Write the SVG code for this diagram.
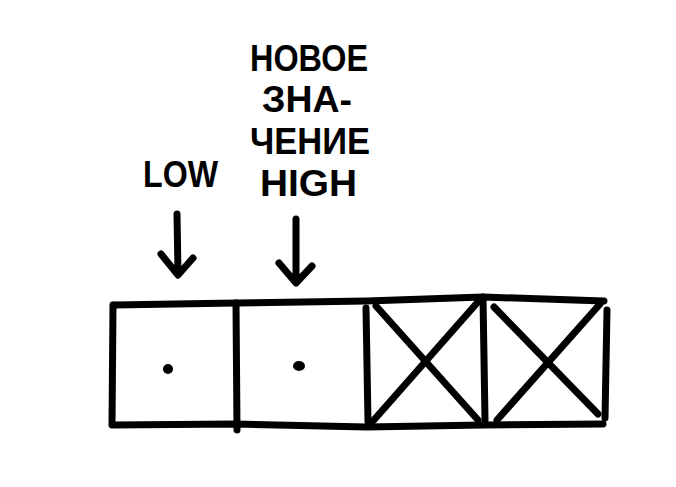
<svg xmlns="http://www.w3.org/2000/svg" width="676" height="487" viewBox="0 0 676 487">
<style>
.t{font-family:"Liberation Sans","DejaVu Sans",sans-serif;font-weight:bold;font-size:37px;fill:#000;}
.ln{stroke:#000;stroke-width:7;fill:none;stroke-linecap:round;stroke-linejoin:round;}
</style>
<rect width="676" height="487" fill="#fff"/>
<g id="label-low"><text class="t" x="143" y="187" textLength="75" lengthAdjust="spacingAndGlyphs">LOW</text></g>
<g id="label-high">
<text class="t" x="250" y="71" textLength="118" lengthAdjust="spacingAndGlyphs">НОВОЕ</text>
<text class="t" x="262" y="112" textLength="90" lengthAdjust="spacingAndGlyphs">ЗНА-</text>
<text class="t" x="250" y="154" textLength="120" lengthAdjust="spacingAndGlyphs">ЧЕНИЕ</text>
<text class="t" x="260" y="196" textLength="97" lengthAdjust="spacingAndGlyphs">HIGH</text>
</g>
<g id="connectors">
<path class="ln" d="M177,214 L178,274 M161,254 L178,275 L193,258"/>
<path class="ln" d="M296,219 L296,281 M279,263 L296,283 L312,266"/>
</g>
<g id="array">
<path class="ln" d="M114,305 L236,303 L367,301 L483,297 L604,301"/>
<path class="ln" d="M113,305 L112,425 L236,424 L367,427 L483,425 L603,424"/>
<path class="ln" d="M236,303 L237,430"/>
<path class="ln" d="M366,308 L368,422"/>
<path class="ln" d="M483,297 L485,420"/>
<path class="ln" d="M607,310 L605,418"/>
</g>
<g id="cell1"><circle cx="168" cy="369" r="5"/></g>
<g id="cell2"><ellipse cx="299" cy="366" rx="6" ry="5"/></g>
<g id="cell3"><path class="ln" d="M376,306 L478,420 M477,303 L373,421"/></g>
<g id="cell4"><path class="ln" d="M494,307 L598,414 M600,304 L497,420"/></g>
</svg>
